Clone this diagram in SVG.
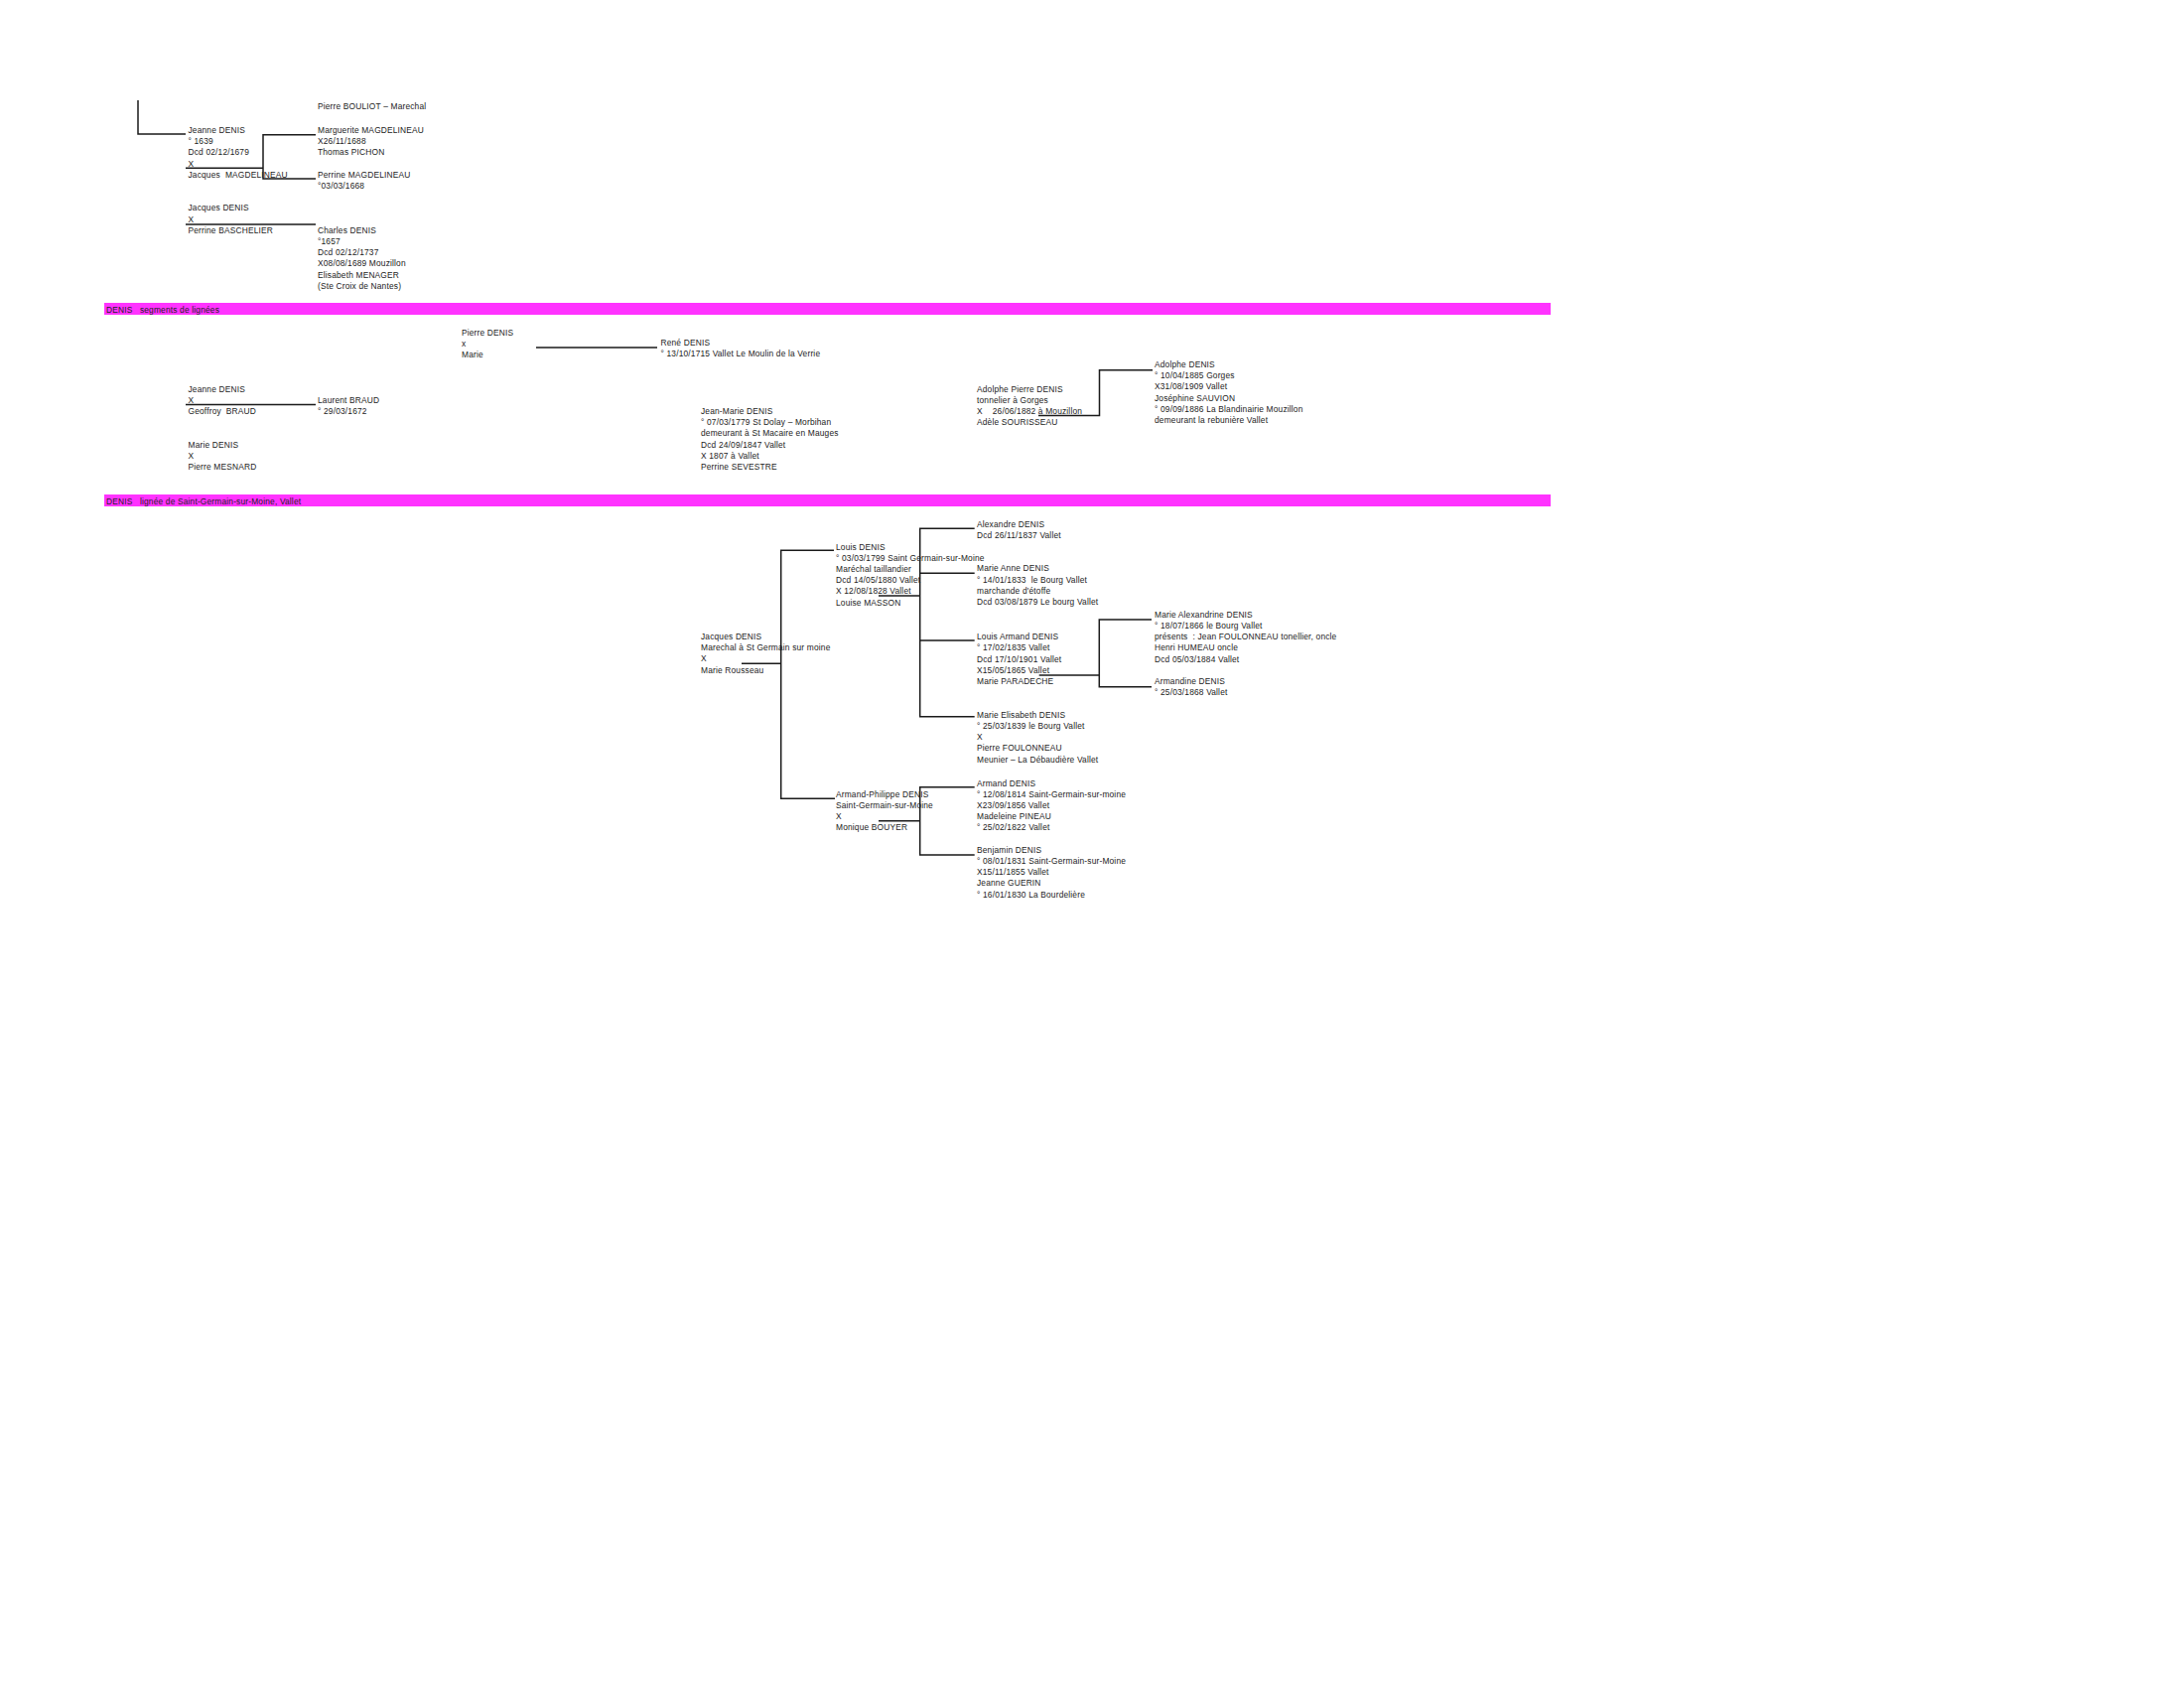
<svg xmlns="http://www.w3.org/2000/svg" width="2200" height="1700" viewBox="0 0 2200 1700">
<style>
.t{font-family:"Liberation Sans",Arial,sans-serif;font-size:8.4px;letter-spacing:0.17px;fill:#222222;white-space:pre}
.c{stroke:#1a1a1a;stroke-width:1.5;fill:none}
.bar{fill:#ff33ff}
</style>
<rect width="2200" height="1700" fill="#ffffff"/>
<g id="bars">
<rect class="bar" x="105" y="305" width="1457" height="12"/>
<text class="t" x="107" y="314.8">DENIS   segments de lignées</text>
<rect class="bar" x="105" y="498" width="1457" height="12"/>
<text class="t" x="107" y="507.5">DENIS   lignée de Saint-Germain-sur-Moine, Vallet</text>
</g>
<g id="connectors">
<path class="c" d="M139,101 V135 H187"/>
<path class="c" d="M187,169.3 H265 M318,135.7 H265 V180 H318"/>
<path class="c" d="M187,226 H318"/>
<path class="c" d="M540,350 H662"/>
<path class="c" d="M187,407.5 H318"/>
<path class="c" d="M1046,418.5 H1107.5 V372.7 H1161"/>
<path class="c" d="M747,668.3 H786.7 M840,554.3 H786.7 V804.3 H841"/>
<path class="c" d="M885,600 H926.7 M981.7,532.3 H926.7 V721.7 H981.7 M926.7,577.3 H981.7 M926.7,645 H981.7"/>
<path class="c" d="M885,826.7 H926.7 M981.7,792.7 H926.7 V861 H981.7"/>
<path class="c" d="M1046.7,680 H1107.3 M1160,624 H1107.3 V691.7 H1160"/>
</g>
<g id="n_bouliot"><text class="t" x="320" y="110">Pierre BOULIOT – Marechal</text></g>
<g id="n_jeanne1"><text class="t" x="189.5" y="134"><tspan x="189.5">Jeanne DENIS</tspan><tspan x="189.5" dy="11.2">° 1639</tspan><tspan x="189.5" dy="11.2">Dcd 02/12/1679</tspan><tspan x="189.5" dy="11.2">X</tspan><tspan x="189.5" dy="11.2">Jacques  MAGDELINEAU</tspan></text></g>
<g id="n_marguerite"><text class="t" x="320" y="134"><tspan x="320">Marguerite MAGDELINEAU</tspan><tspan x="320" dy="11.2">X26/11/1688</tspan><tspan x="320" dy="11.2">Thomas PICHON</tspan></text></g>
<g id="n_perrine"><text class="t" x="320" y="178.8"><tspan x="320">Perrine MAGDELINEAU</tspan><tspan x="320" dy="11.2">°03/03/1668</tspan></text></g>
<g id="n_jacques1"><text class="t" x="189.5" y="212.3"><tspan x="189.5">Jacques DENIS</tspan><tspan x="189.5" dy="11.2">X</tspan><tspan x="189.5" dy="11.2">Perrine BASCHELIER</tspan></text></g>
<g id="n_charles"><text class="t" x="320" y="234.7"><tspan x="320">Charles DENIS</tspan><tspan x="320" dy="11.2">°1657</tspan><tspan x="320" dy="11.2">Dcd 02/12/1737</tspan><tspan x="320" dy="11.2">X08/08/1689 Mouzillon</tspan><tspan x="320" dy="11.2">Elisabeth MENAGER</tspan><tspan x="320" dy="11.2">(Ste Croix de Nantes)</tspan></text></g>
<g id="n_pierre"><text class="t" x="465" y="337.5"><tspan x="465">Pierre DENIS</tspan><tspan x="465" dy="11.2">x</tspan><tspan x="465" dy="11.2">Marie</tspan></text></g>
<g id="n_rene"><text class="t" x="665.5" y="348"><tspan x="665.5">René DENIS</tspan><tspan x="665.5" dy="11.2">° 13/10/1715 Vallet Le Moulin de la Verrie</tspan></text></g>
<g id="n_jeanne2"><text class="t" x="189.5" y="394.7"><tspan x="189.5">Jeanne DENIS</tspan><tspan x="189.5" dy="11.2">X</tspan><tspan x="189.5" dy="11.2">Geoffroy  BRAUD</tspan></text></g>
<g id="n_laurent"><text class="t" x="320" y="405.9"><tspan x="320">Laurent BRAUD</tspan><tspan x="320" dy="11.2">° 29/03/1672</tspan></text></g>
<g id="n_marie"><text class="t" x="189.5" y="450.7"><tspan x="189.5">Marie DENIS</tspan><tspan x="189.5" dy="11.2">X</tspan><tspan x="189.5" dy="11.2">Pierre MESNARD</tspan></text></g>
<g id="n_jeanmarie"><text class="t" x="706" y="417"><tspan x="706">Jean-Marie DENIS</tspan><tspan x="706" dy="11.2">° 07/03/1779 St Dolay – Morbihan</tspan><tspan x="706" dy="11.2">demeurant à St Macaire en Mauges</tspan><tspan x="706" dy="11.2">Dcd 24/09/1847 Vallet</tspan><tspan x="706" dy="11.2">X 1807 à Vallet</tspan><tspan x="706" dy="11.2">Perrine SEVESTRE</tspan></text></g>
<g id="n_adolphepierre"><text class="t" x="984" y="394.5"><tspan x="984">Adolphe Pierre DENIS</tspan><tspan x="984" dy="11.2">tonnelier à Gorges</tspan><tspan x="984" dy="11.2">X    26/06/1882 à Mouzillon</tspan><tspan x="984" dy="11.2">Adèle SOURISSEAU</tspan></text></g>
<g id="n_adolphe"><text class="t" x="1163" y="370"><tspan x="1163">Adolphe DENIS</tspan><tspan x="1163" dy="11.2">° 10/04/1885 Gorges</tspan><tspan x="1163" dy="11.2">X31/08/1909 Vallet</tspan><tspan x="1163" dy="11.2">Joséphine SAUVION</tspan><tspan x="1163" dy="11.2">° 09/09/1886 La Blandinairie Mouzillon</tspan><tspan x="1163" dy="11.2">demeurant la rebunière Vallet</tspan></text></g>
<g id="n_jacques3"><text class="t" x="706" y="644"><tspan x="706">Jacques DENIS</tspan><tspan x="706" dy="11.2">Marechal à St Germain sur moine</tspan><tspan x="706" dy="11.2">X</tspan><tspan x="706" dy="11.2">Marie Rousseau</tspan></text></g>
<g id="n_louis"><text class="t" x="842" y="553.5"><tspan x="842">Louis DENIS</tspan><tspan x="842" dy="11.2">° 03/03/1799 Saint Germain-sur-Moine</tspan><tspan x="842" dy="11.2">Maréchal taillandier</tspan><tspan x="842" dy="11.2">Dcd 14/05/1880 Vallet</tspan><tspan x="842" dy="11.2">X 12/08/1828 Vallet</tspan><tspan x="842" dy="11.2">Louise MASSON</tspan></text></g>
<g id="n_alexandre"><text class="t" x="984" y="530.5"><tspan x="984">Alexandre DENIS</tspan><tspan x="984" dy="11.2">Dcd 26/11/1837 Vallet</tspan></text></g>
<g id="n_marieanne"><text class="t" x="984" y="575.4"><tspan x="984">Marie Anne DENIS</tspan><tspan x="984" dy="11.2">° 14/01/1833  le Bourg Vallet</tspan><tspan x="984" dy="11.2">marchande d'étoffe</tspan><tspan x="984" dy="11.2">Dcd 03/08/1879 Le bourg Vallet</tspan></text></g>
<g id="n_louisarmand"><text class="t" x="984" y="644.2"><tspan x="984">Louis Armand DENIS</tspan><tspan x="984" dy="11.2">° 17/02/1835 Vallet</tspan><tspan x="984" dy="11.2">Dcd 17/10/1901 Vallet</tspan><tspan x="984" dy="11.2">X15/05/1865 Vallet</tspan><tspan x="984" dy="11.2">Marie PARADECHE</tspan></text></g>
<g id="n_marieelisabeth"><text class="t" x="984" y="722.7"><tspan x="984">Marie Elisabeth DENIS</tspan><tspan x="984" dy="11.2">° 25/03/1839 le Bourg Vallet</tspan><tspan x="984" dy="11.2">X</tspan><tspan x="984" dy="11.2">Pierre FOULONNEAU</tspan><tspan x="984" dy="11.2">Meunier – La Débaudière Vallet</tspan></text></g>
<g id="n_armandphilippe"><text class="t" x="842" y="802.7"><tspan x="842">Armand-Philippe DENIS</tspan><tspan x="842" dy="11.2">Saint-Germain-sur-Moine</tspan><tspan x="842" dy="11.2">X</tspan><tspan x="842" dy="11.2">Monique BOUYER</tspan></text></g>
<g id="n_armand"><text class="t" x="984" y="791.5"><tspan x="984">Armand DENIS</tspan><tspan x="984" dy="11.2">° 12/08/1814 Saint-Germain-sur-moine</tspan><tspan x="984" dy="11.2">X23/09/1856 Vallet</tspan><tspan x="984" dy="11.2">Madeleine PINEAU</tspan><tspan x="984" dy="11.2">° 25/02/1822 Vallet</tspan></text></g>
<g id="n_benjamin"><text class="t" x="984" y="858.8"><tspan x="984">Benjamin DENIS</tspan><tspan x="984" dy="11.2">° 08/01/1831 Saint-Germain-sur-Moine</tspan><tspan x="984" dy="11.2">X15/11/1855 Vallet</tspan><tspan x="984" dy="11.2">Jeanne GUERIN</tspan><tspan x="984" dy="11.2">° 16/01/1830 La Bourdelière</tspan></text></g>
<g id="n_mariealexandrine"><text class="t" x="1163" y="621.8"><tspan x="1163">Marie Alexandrine DENIS</tspan><tspan x="1163" dy="11.2">° 18/07/1866 le Bourg Vallet</tspan><tspan x="1163" dy="11.2">présents  : Jean FOULONNEAU tonellier, oncle</tspan><tspan x="1163" dy="11.2">Henri HUMEAU oncle</tspan><tspan x="1163" dy="11.2">Dcd 05/03/1884 Vallet</tspan></text></g>
<g id="n_armandine"><text class="t" x="1163" y="689"><tspan x="1163">Armandine DENIS</tspan><tspan x="1163" dy="11.2">° 25/03/1868 Vallet</tspan></text></g>
</svg>
